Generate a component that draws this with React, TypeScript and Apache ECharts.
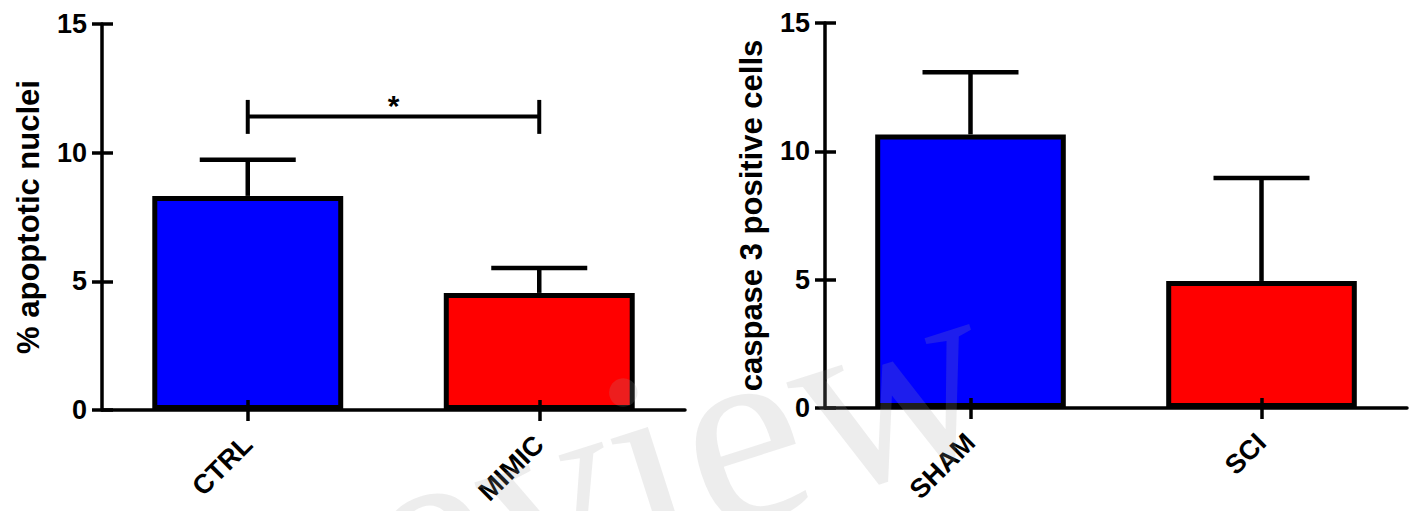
import React, { useEffect, useRef } from "react";
import * as echarts from "echarts";

// ---- data ----
const categoriesLeft = ["CTRL", "MIMIC"];
const meansLeft = [8.32, 4.55];
const upperLeft = [9.72, 5.52];

const categoriesRight = ["SHAM", "SCI"];
const meansRight = [10.66, 4.95];
const upperRight = [13.08, 8.96];

const barColors = ["#0000FF", "#FF0000"];

const yTicks = [0, 5, 10, 15];
const yMin = 0;
const yMax = 15;
const yInterval = 5;

// significance bracket: [fromIndex, toIndex, lineValue, tickLow, tickHigh]
const bracketLeft = [[0, 1, 11.41, 10.73, 12.05]];
const bracketLabel = "*";

const titleLeft = "% apoptotic nuclei";
const titleRight = "caspase 3 positive cells";
const watermarkText = "Preview";

const FONT = "'Liberation Sans', Arial, Helvetica, sans-serif";

function makeAxes(gridIndex: number, cats: string[], title: string) {
  const xMain = {
    type: "category",
    gridIndex,
    data: cats,
    boundaryGap: true,
    z: 5,
    axisLine: { show: true, lineStyle: { color: "#000", width: 3.5 } },
    axisTick: { show: true, alignWithLabel: true, length: 11, lineStyle: { color: "#000", width: 3.5 } },
    axisLabel: {
      rotate: 45,
      margin: 30,
      fontSize: 27,
      fontWeight: "bold",
      color: "#000",
      fontFamily: FONT,
    },
    splitLine: { show: false },
  };
  const xInner = {
    type: "category",
    gridIndex,
    data: cats,
    boundaryGap: true,
    position: "bottom",
    z: 5,
    axisLine: { show: false },
    axisTick: { show: true, inside: true, alignWithLabel: true, length: 10, lineStyle: { color: "#000", width: 3.5 } },
    axisLabel: { show: false },
    splitLine: { show: false },
  };
  const yMain = {
    type: "value",
    gridIndex,
    min: yMin,
    max: yMax,
    interval: yInterval,
    z: 5,
    name: title,
    nameLocation: "middle",
    nameGap: 58,
    nameTextStyle: { fontSize: 31, fontWeight: "bold", color: "#000", fontFamily: FONT },
    axisLine: { show: true, lineStyle: { color: "#000", width: 3.5 } },
    axisTick: { show: true, length: 10, lineStyle: { color: "#000", width: 3.5 } },
    axisLabel: {
      margin: 15,
      fontSize: 27,
      fontWeight: "bold",
      color: "#000",
      fontFamily: FONT,
      formatter: (v: number) => (yTicks.includes(v) ? String(v) : ""),
    },
    splitLine: { show: false },
  };
  const yInner = {
    type: "value",
    gridIndex,
    min: yMin,
    max: yMax,
    interval: yInterval,
    position: "left",
    z: 5,
    axisLine: { show: false },
    axisTick: { show: true, inside: true, length: 11, lineStyle: { color: "#000", width: 3.5 } },
    axisLabel: { show: false },
    splitLine: { show: false },
  };
  return { x: [xMain, xInner], y: [yMain, yInner] };
}

function errorBarRender(params: any, api: any) {
  const x = api.value(0);
  const m = api.value(1);
  const u = api.value(2);
  const p0 = api.coord([x, m]);
  const p1 = api.coord([x, u]);
  const half = 48;
  const style = { stroke: "#000", lineWidth: 4.5 };
  return {
    type: "group",
    children: [
      { type: "line", shape: { x1: p0[0], y1: p0[1], x2: p1[0], y2: p1[1] }, style },
      { type: "line", shape: { x1: p1[0] - half, y1: p1[1], x2: p1[0] + half, y2: p1[1] }, style },
    ],
  };
}

function bracketRender(params: any, api: any) {
  const a = api.value(0);
  const b = api.value(1);
  const yv = api.value(2);
  const lo = api.value(3);
  const hi = api.value(4);
  const pa = api.coord([a, yv]);
  const pb = api.coord([b, yv]);
  const paLo = api.coord([a, lo]);
  const paHi = api.coord([a, hi]);
  const pbLo = api.coord([b, lo]);
  const pbHi = api.coord([b, hi]);
  const style = { stroke: "#000", lineWidth: 4 };
  return {
    type: "group",
    children: [
      { type: "line", shape: { x1: pa[0], y1: pa[1], x2: pb[0], y2: pb[1] }, style },
      { type: "line", shape: { x1: paLo[0], y1: paLo[1], x2: paHi[0], y2: paHi[1] }, style },
      { type: "line", shape: { x1: pbLo[0], y1: pbLo[1], x2: pbHi[0], y2: pbHi[1] }, style },
      {
        type: "text",
        style: {
          text: bracketLabel,
          x: (pa[0] + pb[0]) / 2,
          y: pa[1] - 11,
          align: "center",
          verticalAlign: "middle",
          fontSize: 30,
          fontWeight: "bold",
          fontFamily: FONT,
          fill: "#000",
        },
      },
    ],
  };
}

export default function App() {
  const ref = useRef<HTMLDivElement>(null);
  useEffect(() => {
    if (!ref.current) return;
    const chart = echarts.init(ref.current, undefined, { renderer: "svg" });
    const left = makeAxes(0, categoriesLeft, titleLeft);
    const right = makeAxes(1, categoriesRight, titleRight);

    const barData = (vals: number[]) =>
      vals.map((v, i) => ({ value: v, itemStyle: { color: barColors[i % barColors.length] } }));

    const option: any = {
      animation: false,
      backgroundColor: "#fff",
      grid: [
        { left: 102, top: 24, width: 583, height: 386 },
        { left: 825, top: 23, width: 582, height: 385 },
      ],
      xAxis: [...left.x, ...right.x],
      yAxis: [...left.y, ...right.y],
      series: [
        {
          type: "bar",
          xAxisIndex: 0,
          yAxisIndex: 0,
          barWidth: "65.5%",
          data: barData(meansLeft),
          itemStyle: { borderColor: "#000", borderWidth: 5 },
          z: 2,
        },
        {
          type: "custom",
          xAxisIndex: 0,
          yAxisIndex: 0,
          renderItem: errorBarRender,
          data: categoriesLeft.map((_, i) => [i, meansLeft[i], upperLeft[i]]),
          z: 1,
        },
        {
          type: "custom",
          xAxisIndex: 0,
          yAxisIndex: 0,
          renderItem: bracketRender,
          data: bracketLeft,
          z: 3,
        },
        {
          type: "bar",
          xAxisIndex: 2,
          yAxisIndex: 2,
          barWidth: "65.5%",
          data: barData(meansRight),
          itemStyle: { borderColor: "#000", borderWidth: 5 },
          z: 2,
        },
        {
          type: "custom",
          xAxisIndex: 2,
          yAxisIndex: 2,
          renderItem: errorBarRender,
          data: categoriesRight.map((_, i) => [i, meansRight[i], upperRight[i]]),
          z: 1,
        },
      ],
      graphic: [
        {
          type: "text",
          x: 185,
          y: 750,
          rotation: 0.31,
          z: 100,
          silent: true,
          style: {
            text: watermarkText,
            fontSize: 268,
            fontFamily: "'Liberation Serif', 'Times New Roman', serif",
            fill: "rgba(158,158,158,0.19)",
            align: "left",
            verticalAlign: "bottom",
          },
        },
      ],
    };
    chart.setOption(option);
    return () => chart.dispose();
  }, []);
  return (
    <div
      ref={ref}
      style={{ position: "absolute", left: 0, top: 0, width: 1417, height: 511 }}
    />
  );
}
